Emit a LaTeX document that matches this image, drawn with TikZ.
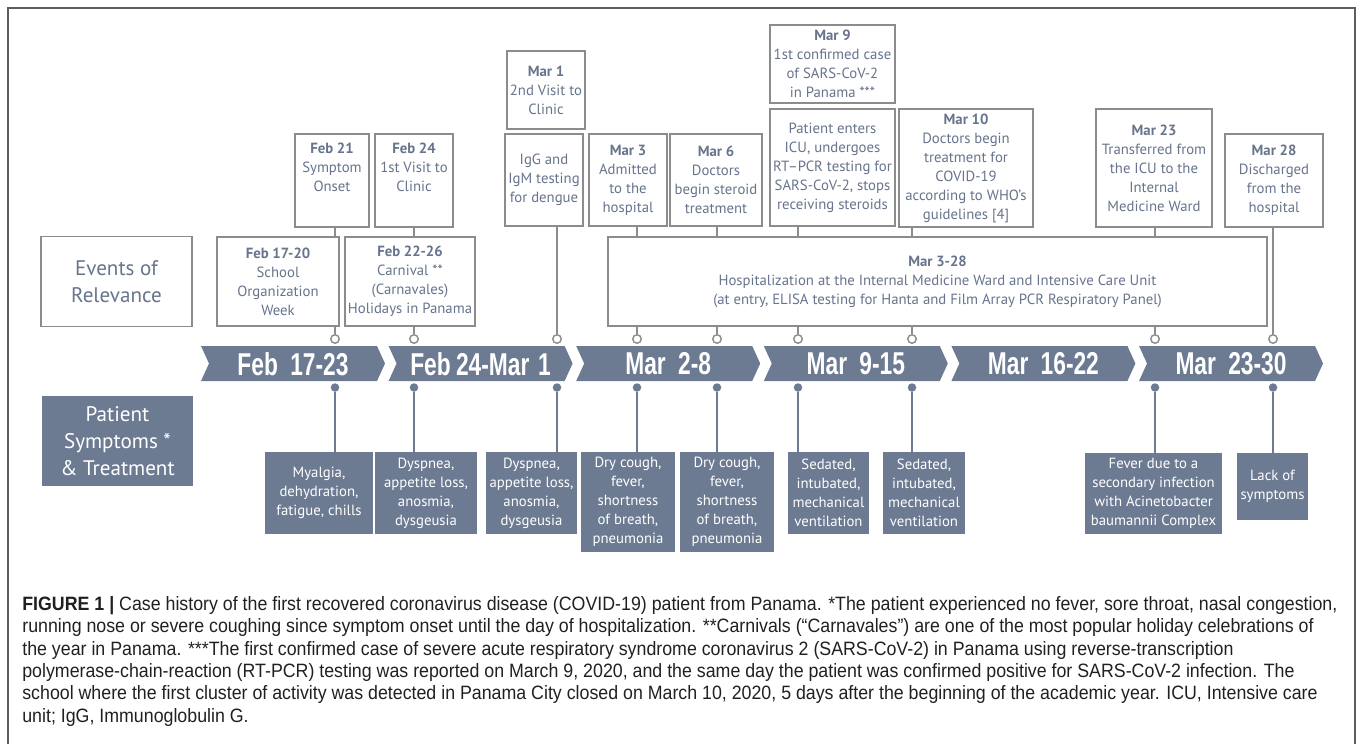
\documentclass[tikz,border=0pt]{standalone}
\usepackage{fontspec}
\setmainfont{PT Sans}
\newfontfamily\capfont[FakeStretch=0.92]{Liberation Sans}
\newfontfamily\weekfont[FakeStretch=0.72]{Liberation Sans}
\usepackage{tikz}
\usetikzlibrary{shapes.geometric}
\definecolor{slate}{HTML}{6C7A92}
\definecolor{slatetext}{HTML}{67748C}
\definecolor{boxline}{HTML}{8C8C8C}
\definecolor{frameline}{HTML}{5E5E5E}
\definecolor{captext}{HTML}{231F20}
\tikzstyle{event} = [rectangle, draw=boxline, line width=0.8pt, fill=white, text=slatetext, align=center, inner sep=0pt, font=\fontsize{8.4}{10.8}\selectfont]
\tikzstyle{symptom} = [rectangle, fill=slate, text=white, align=center, inner sep=0pt, font=\fontsize{8.4}{10.8}\selectfont]
\tikzstyle{rowlabel} = [rectangle, align=center, inner sep=0pt, minimum width=3.02cm, minimum height=1.8cm, font=\fontsize{12}{15.3}\selectfont]
\tikzstyle{ring} = [circle, draw=boxline, line width=0.8pt, fill=white, inner sep=0pt, minimum size=0.17cm]
\tikzstyle{dot} = [circle, fill=slate, inner sep=0pt, minimum size=0.17cm]
\tikzstyle{stemup} = [draw=boxline, line width=1.5pt]
\tikzstyle{stemdown} = [draw=slate, line width=1.2pt]
\tikzstyle{week} = [text=white, inner sep=0pt, font=\weekfont\bfseries\fontsize{18}{18}\selectfont]

\begin{document}
\begin{tikzpicture}[x=0.02cm, y=-0.02cm]
\useasboundingbox (0,0) rectangle (1358,744);
% frame
\draw[frameline, line width=1.1pt] (8,744) -- (8,8) -- (1355,8) -- (1355,744);

% row labels
\node (events) [rowlabel, draw=boxline, line width=0.8pt, text=slatetext] at (116.5,281.5) {Events of\\Relevance};
\node (patient) [rowlabel, fill=slate, text=white] at (117.5,441) {Patient\\Symptoms *\\\& Treatment};

% events of relevance
\node (school) [event, minimum width=2.44cm, minimum height=1.78cm] at (278,281.5) {\textbf{Feb 17-20}\\School\\Organization\\Week};
\node (feb21) [event, minimum width=1.48cm, minimum height=1.86cm] at (332,180.5) {\textbf{Feb 21}\\Symptom\\Onset\\[4pt]};
\node (feb24) [event, minimum width=1.56cm, minimum height=1.86cm] at (414,180.5) {\textbf{Feb 24}\\1st Visit to\\Clinic\\[4pt]};
\node (carnival) [event, minimum width=2.6cm, minimum height=1.78cm] at (410,281.5) {\textbf{Feb 22-26}\\Carnival **\\(Carnavales)\\Holidays in Panama};
\node (mar1) [event, minimum width=1.56cm, minimum height=1.56cm] at (546,90) {\textbf{Mar 1}\\2nd Visit to\\Clinic};
\node (igg) [event, minimum width=1.56cm, minimum height=1.84cm] at (544,180) {IgG and\\IgM testing\\for dengue};
\node (mar3) [event, minimum width=1.56cm, minimum height=1.84cm] at (628,180) {\textbf{Mar 3}\\Admitted\\to the\\hospital};
\node (mar6) [event, minimum width=1.84cm, minimum height=1.84cm] at (716,180) {\textbf{Mar 6}\\Doctors\\begin steroid\\treatment};
\node (mar9) [event, minimum width=2.5cm, minimum height=1.56cm] at (832.5,64) {\textbf{Mar 9}\\1st confirmed case\\of SARS-CoV-2\\in Panama ***};
\node (icu) [event, minimum width=2.5cm, minimum height=2.34cm] at (832.5,167.5) {Patient enters\\ICU, undergoes\\RT–PCR testing for\\SARS-CoV-2, stops\\receiving steroids};
\node (mar10) [event, minimum width=2.68cm, minimum height=2.36cm] at (966,168) {\textbf{Mar 10}\\Doctors begin\\treatment for\\COVID-19\\according to WHO’s\\guidelines [4]};
\node (hosp) [event, minimum width=13.18cm, minimum height=1.78cm] at (937.5,281.5) {\textbf{Mar 3-28}\\Hospitalization at the Internal Medicine Ward and Intensive Care Unit\\(at entry, ELISA testing for Hanta and Film Array PCR Respiratory Panel)};
\node (mar23) [event, minimum width=2.32cm, minimum height=2.36cm] at (1154,168) {\textbf{Mar 23}\\Transferred from\\the ICU to the\\Internal\\Medicine Ward};
\node (mar28) [event, minimum width=1.96cm, minimum height=1.86cm] at (1274,180.5) {\textbf{Mar 28}\\Discharged\\from the\\hospital};

% weeks
\foreach \lab [count=\i from 0] in {Feb\hspace{7pt}17-23, Feb\hspace{3pt}24-Mar\hspace{5pt}1, Mar\hspace{7pt}2-8, Mar\hspace{7pt}9-15, Mar\hspace{7pt}16-22, Mar\hspace{7pt}23-30} {
  \pgfmathsetmacro\s{201+187.6*\i}
  \fill[slate] (\s,346) -- ++(176,0) -- ++(8,17.5) -- ++(-8,17.5) -- ++(-176,0) -- ++(8,-17.5) -- cycle;
  \node (wk\i) [week] at (\s+92,364) {\lab};
}

% markers
\foreach \x [count=\k] in {335,414,557,637,717,798,912,1155,1273} {
  \node (o\k) [ring] at (\x,339) {};
  \node (d\k) [dot] at (\x,387.5) {};
}

% symptoms
\node (myalgia) [symptom, minimum width=2.16cm, minimum height=1.64cm] at (319,493) {Myalgia,\\dehydration,\\fatigue, chills};
\node (dysp1) [symptom, minimum width=2.04cm, minimum height=1.64cm] at (426,493) {Dyspnea,\\appetite loss,\\anosmia,\\dysgeusia};
\node (dysp2) [symptom, minimum width=1.82cm, minimum height=1.64cm] at (531.5,493) {Dyspnea,\\appetite loss,\\anosmia,\\dysgeusia};
\node (cough1) [symptom, minimum width=1.88cm, minimum height=2cm] at (628,502) {Dry cough,\\fever,\\shortness\\of breath,\\pneumonia};
\node (cough2) [symptom, minimum width=1.88cm, minimum height=2cm] at (727,502) {Dry cough,\\fever,\\shortness\\of breath,\\pneumonia};
\node (sed1) [symptom, minimum width=1.62cm, minimum height=1.64cm] at (828.5,493) {Sedated,\\intubated,\\mechanical\\ventilation};
\node (sed2) [symptom, minimum width=1.64cm, minimum height=1.64cm] at (924,493) {Sedated,\\intubated,\\mechanical\\ventilation};
\node (fever) [symptom, minimum width=2.74cm, minimum height=1.62cm] at (1153.5,493.5) {Fever due to a\\secondary infection\\with Acinetobacter\\baumannii Complex};
\node (lack) [symptom, minimum width=1.42cm, minimum height=1.34cm] at (1272.5,486.5) {Lack of\\symptoms};

% stems up
\draw[stemup] (o1 |- feb21.south) -- (o1 |- school.north) (o1 |- school.south) -- (o1.north);
\draw[stemup] (o2 |- feb24.south) -- (o2 |- carnival.north) (o2 |- carnival.south) -- (o2.north);
\draw[stemup] (o3 |- igg.south) -- (o3.north);
\draw[stemup] (o4 |- mar3.south) -- (o4 |- hosp.north) (o4 |- hosp.south) -- (o4.north);
\draw[stemup] (o5 |- mar6.south) -- (o5 |- hosp.north) (o5 |- hosp.south) -- (o5.north);
\draw[stemup] (o6 |- icu.south) -- (o6 |- hosp.north) (o6 |- hosp.south) -- (o6.north);
\draw[stemup] (o7 |- mar10.south) -- (o7 |- hosp.north) (o7 |- hosp.south) -- (o7.north);
\draw[stemup] (o8 |- mar23.south) -- (o8 |- hosp.north) (o8 |- hosp.south) -- (o8.north);
\draw[stemup] (o9 |- mar28.south) -- (o9.north);

% stems down
\draw[stemdown] (d1) -- (d1 |- myalgia.north);
\draw[stemdown] (d2) -- (d2 |- dysp1.north);
\draw[stemdown] (d3) -- (d3 |- dysp2.north);
\draw[stemdown] (d4) -- (d4 |- cough1.north);
\draw[stemdown] (d5) -- (d5 |- cough2.north);
\draw[stemdown] (d6) -- (d6 |- sed1.north);
\draw[stemdown] (d7) -- (d7 |- sed2.north);
\draw[stemdown] (d8) -- (d8 |- fever.north);
\draw[stemdown] (d9) -- (d9 |- lack.north);

% caption
\node (caption) [anchor=north west, align=left, inner sep=0pt, text=captext, font=\capfont\fontsize{11}{12.75}\selectfont] at (22,596) {%
\textbf{FIGURE 1 |} Case history of the first recovered coronavirus disease (COVID-19) patient from Panama. *The patient experienced no fever, sore throat, nasal congestion,\\
running nose or severe coughing since symptom onset until the day of hospitalization. **Carnivals (“Carnavales”) are one of the most popular holiday celebrations of\\
the year in Panama. ***The first confirmed case of severe acute respiratory syndrome coronavirus 2 (SARS-CoV-2) in Panama using reverse-transcription\\
polymerase-chain-reaction (RT-PCR) testing was reported on March 9, 2020, and the same day the patient was confirmed positive for SARS-CoV-2 infection. The\\
school where the first cluster of activity was detected in Panama City closed on March 10, 2020, 5 days after the beginning of the academic year. ICU, Intensive care\\
unit; IgG, Immunoglobulin G.};
\end{tikzpicture}
\end{document}
